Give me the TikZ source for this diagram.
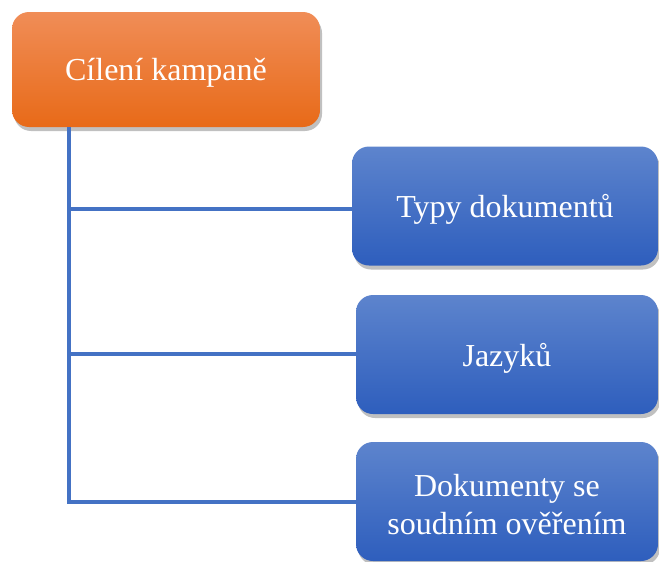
\documentclass[tikz,border=0pt]{standalone}
\usepackage{fontspec}
\setmainfont{Liberation Serif}
\usetikzlibrary{shadows,calc}
\definecolor{orTop}{HTML}{F08D57}
\definecolor{orBot}{HTML}{E86A18}
\definecolor{blTop}{HTML}{5D84CD}
\definecolor{blBot}{HTML}{2E5EBD}
\definecolor{lineBlue}{HTML}{4472C4}
\newcommand{\lowr}[1]{\raisebox{-3.5pt}[\height][\depth]{#1}}
\tikzset{
  box/.style={rectangle, rounded corners=17pt, text=white, align=center,
    font=\fontsize{32}{38}\selectfont, inner sep=0pt,
    drop shadow={shadow xshift=2pt, shadow yshift=-4pt, fill=black!55, opacity=0.45}},
  orangebox/.style={box, top color=orTop, bottom color=orBot, minimum width=308pt, minimum height=115pt},
  bluebox/.style={box, top color=blTop, bottom color=blBot, minimum width=306pt, minimum height=119pt},
  conn/.style={draw=lineBlue, line width=3.5pt}
}
\begin{document}
\begin{tikzpicture}[x=1pt,y=1pt]
\useasboundingbox (0,0) rectangle (659,-562);
\node[orangebox] (root) at (166,-69.5) {\lowr{Cílení kampaně}};
\node[bluebox] (b1) at (505,-206) {\lowr{Typy dokumentů}};
\node[bluebox, minimum width=302pt] (b2) at (507,-354.5) {\lowr{Jazyků}};
\node[bluebox, minimum width=302pt] (b3) at (507,-501.5) {\lowr{Dokumenty se}\\\lowr{soudním ověřením}};
\coordinate (top) at (69,-127);
\coordinate (j1) at (69,-209);
\coordinate (j2) at (69,-354);
\coordinate (j3) at (69,-502);
\draw[conn] (top) -- (j3 -| top);
\draw[conn] (j1) -- (j1 -| b1.west);
\draw[conn] (j2) -- (j2 -| b2.west);
\draw[conn] ([xshift=-1.75pt]j3) -- (j3 -| b3.west);
\end{tikzpicture}
\end{document}
